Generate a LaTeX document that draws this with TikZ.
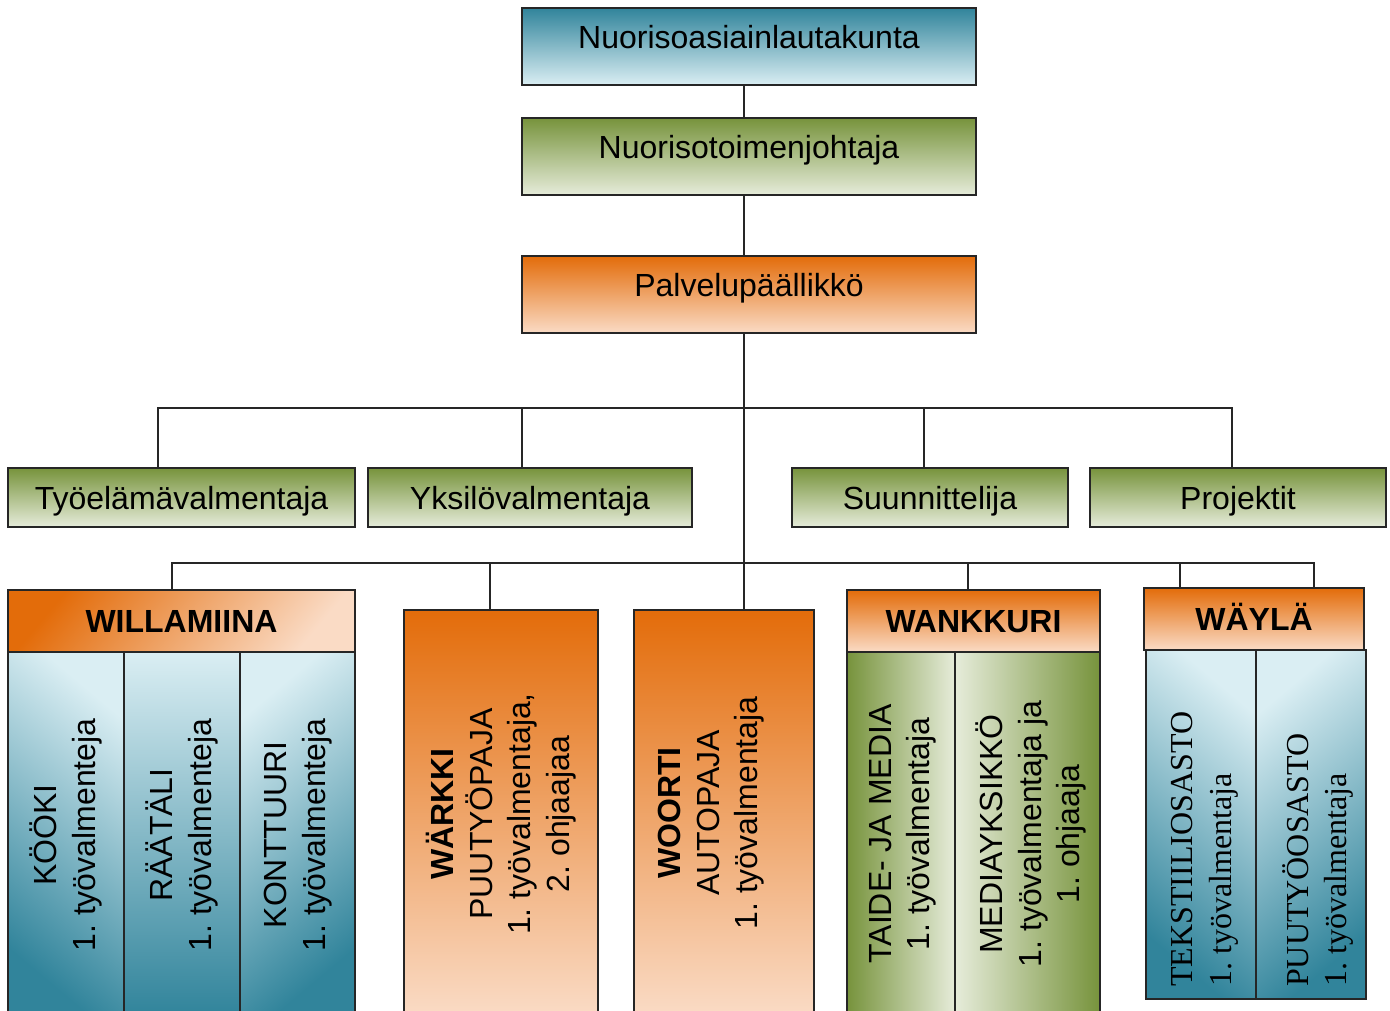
\documentclass[tikz,border=0pt]{standalone}
\usepackage{fontspec}
\setmainfont{Liberation Sans}
\newfontfamily\serifcol{Liberation Serif}
\usepackage{tikz}
\usetikzlibrary{calc}

\newcommand{\orgfont}{\fontsize{32}{38.5}\selectfont\frenchspacing}
\definecolor{blueD}{HTML}{31849B}
\definecolor{blueL}{HTML}{DAEEF3}
\definecolor{greenD}{HTML}{77933C}
\definecolor{greenL}{HTML}{E6ECDA}
\definecolor{orangeD}{HTML}{E36C0A}
\definecolor{orangeL}{HTML}{FADBC5}

\tikzset{
  box/.style={draw=black!85, line width=2pt, inner sep=2pt, font=\orgfont,
              text height=23pt, text depth=0pt},
  topbox/.style={box, minimum width=454pt, minimum height=77pt, text depth=20pt},
  greenbox/.style={box, minimum height=59pt, top color=greenD, bottom color=greenL},
  headbox/.style={box, minimum height=62pt, font=\orgfont\bfseries},
  colbox/.style={draw=black!85, line width=2pt, inner sep=0pt},
  vtext/.style={rotate=90, align=center, font=\orgfont, inner sep=0pt},
  conn/.style={line width=2pt, black!85}
}

\begin{document}
\begin{tikzpicture}[x=1pt, y=-1pt]
  \useasboundingbox (0,0) rectangle (1390,1010);
  \clip (0,0) rectangle (1390,1010);

  \coordinate (trunk) at (744,408);
  \coordinate (bus1L) at (158,408);
  \coordinate (bus1R) at (1232,408);
  \coordinate (k2) at (522,408);
  \coordinate (k3) at (924,408);
  \coordinate (bus2L) at (172,563);
  \coordinate (bus2R) at (1314,563);
  \coordinate (m2) at (490,563);
  \coordinate (m4) at (968,563);
  \coordinate (m5) at (1180,563);

  \node[topbox, top color=blueD, bottom color=blueL] (lauta) at (749,46.5) {Nuorisoasiainlautakunta};
  \node[topbox, top color=greenD, bottom color=greenL] (johtaja) at (749,156.5) {Nuorisotoimenjohtaja};
  \node[topbox, top color=orangeD, bottom color=orangeL] (pal) at (749,294.5) {Palvelupäällikkö};

  \node[greenbox, minimum width=347pt] (tyo) at (181.5,497.5) {Työelämävalmentaja};
  \node[greenbox, minimum width=324pt] (yks) at (530,497.5) {Yksilövalmentaja};
  \node[greenbox, minimum width=276pt] (suun) at (930,497.5) {Suunnittelija};
  \node[greenbox, minimum width=296pt] (proj) at (1238,497.5) {Projektit};

  \node[colbox, minimum width=116pt, minimum height=363pt, top color=blueL, bottom color=blueD, shading angle=-40] (kooki) at (66,833.5) {};
  \node[colbox, minimum width=116pt, minimum height=363pt, top color=blueL, bottom color=blueD] (raatali) at (182,833.5) {};
  \node[colbox, minimum width=115pt, minimum height=363pt, top color=blueL, bottom color=blueD, shading angle=40] (konttuuri) at (297.5,833.5) {};
  \node[headbox, minimum width=347pt, top color=orangeD, bottom color=orangeL, shading angle=50] (will) at (181.5,621) {WILLAMIINA};

  \node[colbox, minimum width=194pt, minimum height=405pt, top color=orangeD, bottom color=orangeL] (warkki) at (501,812.5) {};
  \node[colbox, minimum width=180pt, minimum height=405pt, top color=orangeD, bottom color=orangeL] (woorti) at (724,812.5) {};

  \node[colbox, minimum width=108pt, minimum height=363pt, left color=greenD, right color=greenL] (taide) at (901,833.5) {};
  \node[colbox, minimum width=145pt, minimum height=363pt, left color=greenL, right color=greenD] (media) at (1027.5,833.5) {};
  \node[headbox, minimum width=253pt, top color=orangeD, bottom color=orangeL] (wank) at (973.5,621) {WANKKURI};

  \node[colbox, minimum width=110pt, minimum height=349pt, top color=blueL, bottom color=blueD, shading angle=-40] (tekstiili) at (1201,824.5) {};
  \node[colbox, minimum width=110pt, minimum height=349pt, top color=blueL, bottom color=blueD, shading angle=40] (puutyo) at (1311,824.5) {};
  \node[headbox, minimum width=220pt, top color=orangeD, bottom color=orangeL] (wayla) at (1254,619) {WÄYLÄ};

  \node[vtext] (kooki-t) at (66,835) {KÖÖKI\\1. työvalmenteja};
  \node[vtext] (raatali-t) at (182,835) {RÄÄTÄLI\\1. työvalmenteja};
  \node[vtext] (konttuuri-t) at (298,835) {KONTTUURI\\1. työvalmenteja};
  \node[vtext] (warkki-t) at (501,814) {\textbf{WÄRKKI}\\PUUTYÖPAJA\\1. työvalmentaja,\\2. ohjaajaa};
  \node[vtext] (woorti-t) at (711.5,813) {\textbf{WOORTI}\\AUTOPAJA\\1. työvalmentaja};
  \node[vtext] (taide-t) at (903,834) {TAIDE- JA MEDIA\\1. työvalmentaja};
  \node[vtext] (media-t) at (1031,834) {MEDIAYKSIKKÖ\\1. työvalmentaja ja\\1. ohjaaja};
  \node[vtext, align=left, anchor=west, font=\orgfont\serifcol] (tekstiili-t) at (1205,987) {TEKSTIILIOSASTO\\1. työvalmentaja};
  \node[vtext, align=left, anchor=west, font=\orgfont\serifcol] (puutyo-t) at (1318,987) {PUUTYÖOSASTO\\1. työvalmentaja};

  \draw[conn] (lauta.south -| trunk) -- (johtaja.north -| trunk);
  \draw[conn] (johtaja.south -| trunk) -- (pal.north -| trunk);
  \draw[conn] (pal.south -| trunk) -- (woorti.north -| trunk);
  \draw[conn] (tyo.north -| bus1L) -- (bus1L) -- (bus1R) -- (proj.north -| bus1R);
  \draw[conn] (k2) -- (yks.north -| k2);
  \draw[conn] (k3) -- (suun.north -| k3);
  \draw[conn] (will.north -| bus2L) -- (bus2L) -- (bus2R) -- (wayla.north -| bus2R);
  \draw[conn] (m2) -- (warkki.north -| m2);
  \draw[conn] (m4) -- (wank.north -| m4);
  \draw[conn] (m5) -- (wayla.north -| m5);
\end{tikzpicture}
\end{document}
